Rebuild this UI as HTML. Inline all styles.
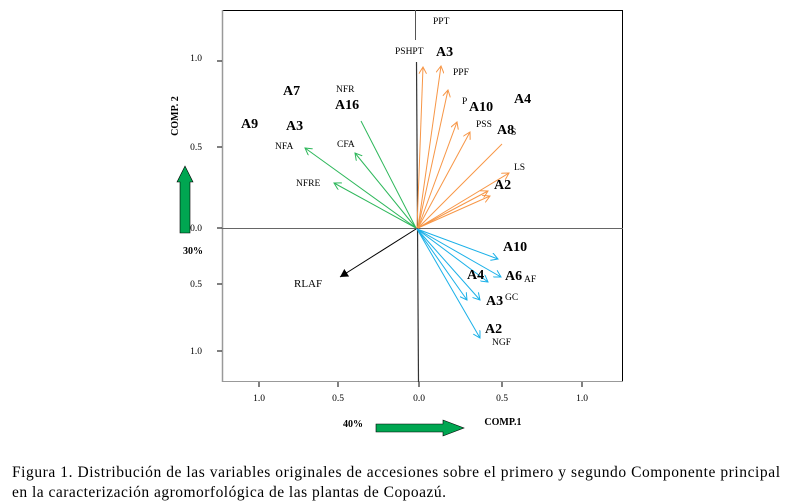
<!DOCTYPE html>
<html><head><meta charset="utf-8"><style>
body{margin:0;background:#fff;width:790px;height:503px;overflow:hidden}
svg{display:block}
text{font-family:"Liberation Serif",serif;fill:#000}
.b{font-weight:bold;font-size:14px}
.s{font-size:9.5px}
.t{font-size:9.5px}
</style></head><body>
<svg width="790" height="503" viewBox="0 0 790 503">
<defs>
<marker id="mo" markerWidth="8" markerHeight="8" refX="7" refY="4" orient="auto" markerUnits="userSpaceOnUse"><path d="M0,0 L7,4 L0,8" fill="none" stroke="#f79646" stroke-width="1"/></marker>
<marker id="mg" markerWidth="8" markerHeight="8" refX="7" refY="4" orient="auto" markerUnits="userSpaceOnUse"><path d="M0,0 L7,4 L0,8" fill="none" stroke="#2db75a" stroke-width="1"/></marker>
<marker id="mb" markerWidth="8" markerHeight="8" refX="7" refY="4" orient="auto" markerUnits="userSpaceOnUse"><path d="M0,0 L7,4 L0,8" fill="none" stroke="#1ab0e8" stroke-width="1"/></marker>
<marker id="mk" markerWidth="9" markerHeight="9" refX="8" refY="4.5" orient="auto" markerUnits="userSpaceOnUse"><path d="M0,0 L8,4.5 L0,9z" fill="#000"/></marker>
</defs>
<line x1="222" y1="10.5" x2="623" y2="10.5" stroke="#000" stroke-width="1"/>
<line x1="622.5" y1="10" x2="622.5" y2="382" stroke="#000" stroke-width="1"/>
<line x1="222" y1="381.5" x2="623" y2="381.5" stroke="#999" stroke-width="1"/>
<line x1="222.5" y1="10" x2="222.5" y2="382" stroke="#999" stroke-width="1.5"/>
<line x1="222" y1="228.5" x2="623" y2="228.5" stroke="#666" stroke-width="1"/>
<line x1="415.5" y1="10" x2="415.5" y2="40" stroke="#555" stroke-width="1"/>
<line x1="416.5" y1="62" x2="418.5" y2="382" stroke="#333" stroke-width="1.2"/>
<g stroke="#000" stroke-width="1">
<line x1="217" y1="61" x2="222" y2="61"/><line x1="217" y1="147" x2="222" y2="147"/><line x1="217" y1="228" x2="222" y2="228"/><line x1="217" y1="284" x2="222" y2="284"/><line x1="217" y1="351" x2="222" y2="351"/>
<line x1="259" y1="382" x2="259" y2="387"/><line x1="338" y1="382" x2="338" y2="387"/><line x1="419" y1="382" x2="419" y2="387"/><line x1="502" y1="382" x2="502" y2="387"/><line x1="582" y1="382" x2="582" y2="387"/>
</g>
<g class="t" text-anchor="middle">
<text x="196" y="61">1.0</text><text x="196" y="150">0.5</text><text x="196" y="231">0.0</text><text x="196" y="287">0.5</text><text x="196" y="354">1.0</text>
<text x="259" y="401">1.0</text><text x="338" y="401">0.5</text><text x="419" y="401">0.0</text><text x="502" y="401">0.5</text><text x="582" y="401">1.0</text>
</g>
<text x="178" y="116" transform="rotate(-90 178 116)" text-anchor="middle" style="font-size:10px;font-weight:bold">COMP. 2</text>
<text x="193" y="254" text-anchor="middle" style="font-size:10px;font-weight:bold">30%</text>
<text x="353" y="427" text-anchor="middle" style="font-size:10px;font-weight:bold">40%</text>
<text x="503" y="425" text-anchor="middle" style="font-size:10px;font-weight:bold">COMP.1</text>
<path d="M180,233 V182 H177 L185,166 L193,182 H190 V233 Z" fill="#00a651" stroke="#000" stroke-width="0.6"/>
<path d="M376,424 H443 V420 L464,428 L443,436 V432 H376 Z" fill="#00a651" stroke="#000" stroke-width="0.6"/>
<g stroke="#f79646" stroke-width="1" fill="none" marker-end="url(#mo)">
<line x1="417" y1="228" x2="423" y2="67"/>
<line x1="418" y1="228" x2="441" y2="66"/>
<line x1="418" y1="228" x2="448" y2="90"/>
<line x1="418" y1="228" x2="457" y2="122"/>
<line x1="418" y1="228" x2="470" y2="132"/>
<line x1="418" y1="228" x2="488" y2="191"/>
<line x1="418" y1="228" x2="490" y2="196"/>
<line x1="418" y1="228" x2="509" y2="173"/>
</g>
<line x1="418" y1="228" x2="502" y2="144" stroke="#f79646" stroke-width="1"/>
<g stroke="#2db75a" stroke-width="1" fill="none" marker-end="url(#mg)">
<line x1="416" y1="228" x2="305" y2="148"/>
<line x1="416" y1="228" x2="355" y2="153"/>
<line x1="416" y1="228" x2="334" y2="183"/>
</g>
<line x1="416" y1="228" x2="361" y2="121" stroke="#2db75a" stroke-width="1"/>
<g stroke="#1ab0e8" stroke-width="1" fill="none" marker-end="url(#mb)">
<line x1="417" y1="229" x2="498" y2="259"/>
<line x1="417" y1="229" x2="501" y2="277"/>
<line x1="417" y1="229" x2="480" y2="300"/>
<line x1="417" y1="229" x2="480" y2="338"/>
<line x1="417" y1="229" x2="488" y2="282"/>
</g>
<line x1="417" y1="229" x2="467" y2="300" stroke="#1ab0e8" stroke-width="1" marker-end="url(#mb)"/>
<line x1="416" y1="229" x2="340" y2="277" stroke="#000" stroke-width="1" marker-end="url(#mk)"/>
<g class="s">
<text x="433" y="24">PPT</text>
<text x="395" y="54">PSHPT</text>
<text x="453" y="75">PPF</text>
<text x="462" y="104">P</text>
<text x="476" y="127">PSS</text>
<text x="514" y="170">LS</text>
<text x="511" y="135">S</text>
<text x="336" y="92">NFR</text>
<text x="275" y="149">NFA</text>
<text x="337" y="147">CFA</text>
<text x="296" y="186">NFRE</text>
<text x="524" y="282">AF</text>
<text x="505" y="300">GC</text>
<text x="492" y="345">NGF</text>
<text x="294" y="287" style="font-size:11px">RLAF</text>
</g>
<g class="b">
<text x="436" y="56">A3</text>
<text x="469" y="111">A10</text>
<text x="514" y="103">A4</text>
<text x="497" y="134">A8</text>
<text x="494" y="189">A2</text>
<text x="283" y="95">A7</text>
<text x="335" y="109">A16</text>
<text x="241" y="128">A9</text>
<text x="286" y="130">A3</text>
<text x="503" y="251">A10</text>
<text x="467" y="279">A4</text>
<text x="505" y="280">A6</text>
<text x="486" y="305">A3</text>
<text x="485" y="333">A2</text>
</g>
<text x="12" y="477" style="font-size:15.5px" textLength="768" lengthAdjust="spacing">Figura 1. Distribución  de las variables originales  de accesiones sobre el primero y segundo Componente principal</text>
<text x="12" y="497" style="font-size:15.5px" textLength="434" lengthAdjust="spacing">en la caracterización agromorfológica  de las plantas de Copoazú.</text>
</svg>
</body></html>
